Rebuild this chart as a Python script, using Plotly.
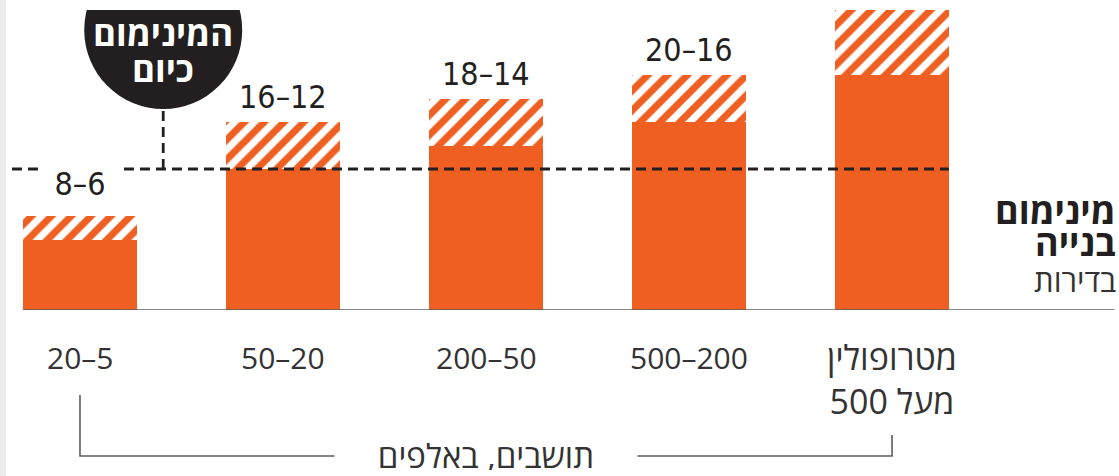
import re
import plotly.graph_objects as go

# ---------------- data ----------------
categories = ["20–5", "50–20", "200–50", "500–200", "מטרופולין<br>500 מעל"]
range_low = [6, 12, 14, 16, 20]
range_high = [8, 16, 18, 20, 26]
range_labels = ["8–6", "16–12", "18–14", "20–16", ""]
current_minimum = 12
circle_lines = ["המינימום", "כיום"]
axis_title = "תושבים, באלפים"
side_title = ["מינימום", "בנייה"]
side_unit = "בדירות"

# ---------------- style ----------------
W, H = 1119, 476
M_T, M_B = 10, 166
PLOT_H = H - M_T - M_B
PX_PER_UNIT = 11.75
Y_MAX = PLOT_H / PX_PER_UNIT
X_RANGE = [-0.394, 5.118]
BAR_W = 0.56
ORANGE = "#EF5F22"
DARK = "#231F20"
GREY_TXT = "#333333"
LINE_GREY = "#5E5E5E"
HEB = "Open Sans, DejaVu Sans, sans-serif"
COND = "DejaVu Sans Condensed, DejaVu Sans, sans-serif"
CALLOUT_X = 0.41
HEBREW_RE = re.compile(r"[\u0590-\u05FF]")


def xp(v):
    return (v - X_RANGE[0]) / (X_RANGE[1] - X_RANGE[0])


def yp(px_from_top):
    return (H - M_B - px_from_top) / PLOT_H


hatch_size = [h - l for h, l in zip(range_high, range_low)]

fig = go.Figure()
fig.add_trace(go.Bar(x=categories, y=range_low, width=BAR_W,
                     marker=dict(color=ORANGE, line=dict(width=0)),
                     hoverinfo="skip"))
fig.add_trace(go.Bar(x=categories, y=hatch_size, width=BAR_W,
                     marker=dict(color="white", line=dict(width=0),
                                 pattern=dict(shape="/", fgcolor=ORANGE, bgcolor="white",
                                              size=14, solidity=0.5, fillmode="replace")),
                     hoverinfo="skip"))

shapes = []
# left grey strip
shapes.append(dict(type="rect", xref="paper", yref="paper", x0=0, x1=6 / W,
                   y0=-M_B / PLOT_H, y1=1 + M_T / PLOT_H, fillcolor="#ECECEC",
                   line=dict(width=0), layer="below"))
# baseline
shapes.append(dict(type="line", xref="paper", yref="y", x0=xp(-BAR_W / 2), x1=0.996,
                   y0=0, y1=0, line=dict(color=LINE_GREY, width=1.6)))
# current minimum dashed line
shapes.append(dict(type="line", xref="x", yref="y", x0=-0.335, x1=len(categories) - 1 + BAR_W / 2,
                   y0=current_minimum, y1=current_minimum,
                   line=dict(color=DARK, width=2.8, dash="10px,6px")))
# connector to callout circle
shapes.append(dict(type="line", xref="x", yref="y", x0=CALLOUT_X, x1=CALLOUT_X,
                   ysizemode="pixel", yanchor=current_minimum, y0=0, y1=60,
                   line=dict(color=DARK, width=2.8, dash="10px,6px")))
# callout circle
shapes.append(dict(type="circle", xref="x", yref="y",
                   xsizemode="pixel", xanchor=CALLOUT_X, x0=-79, x1=79,
                   ysizemode="pixel", yanchor=current_minimum, y0=60, y1=218,
                   fillcolor=DARK, line=dict(width=0)))
# bracket under categories
yb = yp(456)
shapes.append(dict(type="path", xref="paper", yref="paper",
                   path=f"M {xp(0)} {yp(395)} L {xp(0)} {yb} L {xp(len(categories)-1)} {yb} "
                        f"L {xp(len(categories)-1)} {yp(435)}",
                   line=dict(color=LINE_GREY, width=1.6)))

ann = []
for i, (lab, hi) in enumerate(zip(range_labels, range_high)):
    if not lab:
        continue
    below = hi < current_minimum
    a = dict(x=i, y=hi, xref="x", yref="y", text=lab, showarrow=False,
             yanchor="middle", yshift=25 + (7 if below else 0),
             font=dict(family=COND, size=32, color=DARK))
    if below:
        a.update(bgcolor="white", width=80)
    ann.append(a)

for i, cat in enumerate(categories):
    heb = bool(HEBREW_RE.search(cat))
    ann.append(dict(x=i, y=0, xref="x", yref="y", text=cat, showarrow=False,
                    yanchor="top", yshift=-22 if heb else -25,
                    font=dict(family=HEB, size=34 if heb else 30, color=GREY_TXT)))

ann.append(dict(x=(len(categories) - 1) / 2, y=yb, xref="x", yref="paper", text=axis_title,
                showarrow=False, yanchor="middle", valign="middle", bgcolor="white",
                width=300, height=30, yshift=1,
                font=dict(family=HEB, size=33, color=GREY_TXT)))

for line, shift in zip(circle_lines, [137, 101]):
    ann.append(dict(x=CALLOUT_X, y=current_minimum, xref="x", yref="y", text=f"<b>{line}</b>",
                    showarrow=False, yanchor="middle", valign="middle", height=32, yshift=shift,
                    font=dict(family=HEB, size=35, color="white")))

for line, py in zip(side_title, [211, 242]):
    ann.append(dict(x=1, y=yp(py), xref="paper", yref="paper", text=f"<b>{line}</b>",
                    showarrow=False, xanchor="right", yanchor="middle", valign="middle",
                    height=29, xshift=-1,
                    font=dict(family=HEB, size=36, color=DARK)))
ann.append(dict(x=1, y=yp(279), xref="paper", yref="paper", text=side_unit,
                showarrow=False, xanchor="right", yanchor="middle", valign="middle",
                height=29, xshift=-1,
                font=dict(family=HEB, size=31, color=GREY_TXT)))

fig.update_layout(
    width=W, height=H,
    margin=dict(l=0, r=0, t=M_T, b=M_B, pad=0),
    paper_bgcolor="white", plot_bgcolor="white",
    barmode="stack", bargap=0, showlegend=False,
    xaxis=dict(type="category", range=X_RANGE, visible=False, fixedrange=True),
    yaxis=dict(range=[0, Y_MAX], visible=False, fixedrange=True),
    shapes=shapes, annotations=ann,
)

fig.write_html("out.html", config={"displayModeBar": False})
